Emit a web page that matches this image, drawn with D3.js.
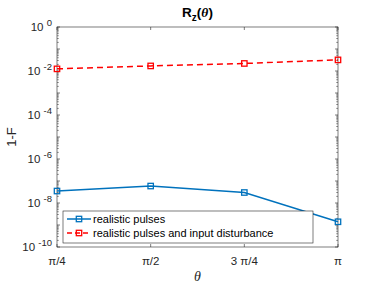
<!DOCTYPE html>
<html><head><meta charset="utf-8">
<script src="https://cdn.jsdelivr.net/npm/d3@7"></script>
<style>body{margin:0;background:#fff;}svg{display:block;font-family:"Liberation Sans",Arial,sans-serif;}</style>
</head><body>
<svg id="c" width="374" height="286"></svg>
<script>
const categories = ["π/4", "π/2", "3π/4", "π"];
const xValues = [Math.PI/4, Math.PI/2, 3*Math.PI/4, Math.PI];
const realistic = [3.5e-8, 5.9e-8, 3.0e-8, 1.4e-9];
const disturbance = [1.25e-2, 1.7e-2, 2.2e-2, 3.2e-2];
const yTickExps = [0, -2, -4, -6, -8, -10];
const seriesNames = ["realistic pulses", "realistic pulses and input disturbance"];

const svg = d3.select("#c");
const L = 57, R = 338, T = 27, B = 247;
const x = d3.scaleLinear().domain([Math.PI/4, Math.PI]).range([L, R]);
const y = d3.scaleLog().domain([1e-10, 1]).range([B, T]);
const axisColor = "#262626";

svg.append("rect").attr("x", L).attr("y", T).attr("width", R-L).attr("height", B-T)
  .attr("fill", "none").attr("stroke", axisColor).attr("stroke-width", 0.6);

const g = svg.append("g");
xValues.forEach((v, i) => {
  const px = x(v);
  g.append("line").attr("x1", px).attr("x2", px).attr("y1", B).attr("y2", B-3).attr("stroke", axisColor).attr("stroke-width", 0.6);
  g.append("line").attr("x1", px).attr("x2", px).attr("y1", T).attr("y2", T+3).attr("stroke", axisColor).attr("stroke-width", 0.6);
  g.append("text").attr("x", px).attr("y", 265).attr("text-anchor", "middle").attr("font-size", 11.5)
    .attr("fill", axisColor).text(categories[i].replace("3π", "3 π"));
});

for (let e = -10; e <= 0; e++) {
  const py = y(Math.pow(10, e));
  [[L, L+3], [R, R-3]].forEach(([a, b]) =>
    g.append("line").attr("x1", a).attr("x2", b).attr("y1", py).attr("y2", py).attr("stroke", axisColor).attr("stroke-width", 0.6));
  if (e < 0) {
    for (let m = 2; m <= 9; m++) {
      const my = y(m * Math.pow(10, e));
      [[L, L+1.8], [R, R-1.8]].forEach(([a, b]) =>
        g.append("line").attr("x1", a).attr("x2", b).attr("y1", my).attr("y2", my).attr("stroke", axisColor).attr("stroke-width", 0.5));
    }
  }
}
yTickExps.forEach(e => {
  const py = y(Math.pow(10, e));
  const t = g.append("text").attr("x", 52).attr("y", py + 4).attr("text-anchor", "end").attr("font-size", 11.5).attr("fill", axisColor);
  t.append("tspan").text("10 ");
  t.append("tspan").attr("dy", -5).attr("font-size", 9.5).text(e === 0 ? "0" : "-" + (-e));
});

svg.append("text").attr("x", (L+R)/2).attr("y", 281).attr("text-anchor", "middle").attr("font-size", 14)
  .attr("font-family", "'Liberation Serif',serif").attr("font-style", "italic").attr("fill", axisColor).text("θ");
svg.append("text").attr("transform", `translate(16,${(T+B)/2}) rotate(-90)`).attr("text-anchor", "middle")
  .attr("font-size", 13).attr("fill", axisColor).text("1-F");
const title = svg.append("text").attr("x", (L+R)/2).attr("y", 17).attr("text-anchor", "middle").attr("font-size", 13.5)
  .attr("font-weight", "bold").attr("fill", "#000");
title.append("tspan").text("R");
title.append("tspan").attr("dy", 4).attr("font-size", 10).text("z");
title.append("tspan").attr("dy", -4).text("(");
title.append("tspan").attr("font-family", "'Liberation Serif',serif").attr("font-style", "italic").text("θ");
title.append("tspan").text(")");

const line = d3.line().x((d, i) => x(xValues[i])).y(d => y(d));
const series = [
  {data: realistic, color: "#0072BD", dash: null},
  {data: disturbance, color: "#FF0000", dash: "6,4"}
];
series.forEach(s => {
  svg.append("path").attr("d", line(s.data)).attr("fill", "none").attr("stroke", s.color)
    .attr("stroke-width", 1.5).attr("stroke-dasharray", s.dash);
  s.data.forEach((d, i) => {
    svg.append("rect").attr("x", x(xValues[i]) - 2.7).attr("y", y(d) - 2.7).attr("width", 5.4).attr("height", 5.4)
      .attr("fill", "none").attr("stroke", s.color).attr("stroke-width", 1.3);
  });
});

const lg = svg.append("g");
lg.append("rect").attr("x", 63).attr("y", 211).attr("width", 250).attr("height", 32)
  .attr("fill", "#fff").attr("stroke", axisColor).attr("stroke-width", 0.6);
series.forEach((s, i) => {
  const ly = 219 + i * 14;
  lg.append("line").attr("x1", 67).attr("x2", 91).attr("y1", ly).attr("y2", ly).attr("stroke", s.color)
    .attr("stroke-width", 1.5).attr("stroke-dasharray", s.dash ? "5,3" : null);
  lg.append("rect").attr("x", 76.3).attr("y", ly - 2.7).attr("width", 5.4).attr("height", 5.4)
    .attr("fill", "none").attr("stroke", s.color).attr("stroke-width", 1.3);
  lg.append("text").attr("x", 93).attr("y", ly + 4).attr("font-size", 11).attr("fill", "#000").text(seriesNames[i]);
});
</script>
</body></html>
